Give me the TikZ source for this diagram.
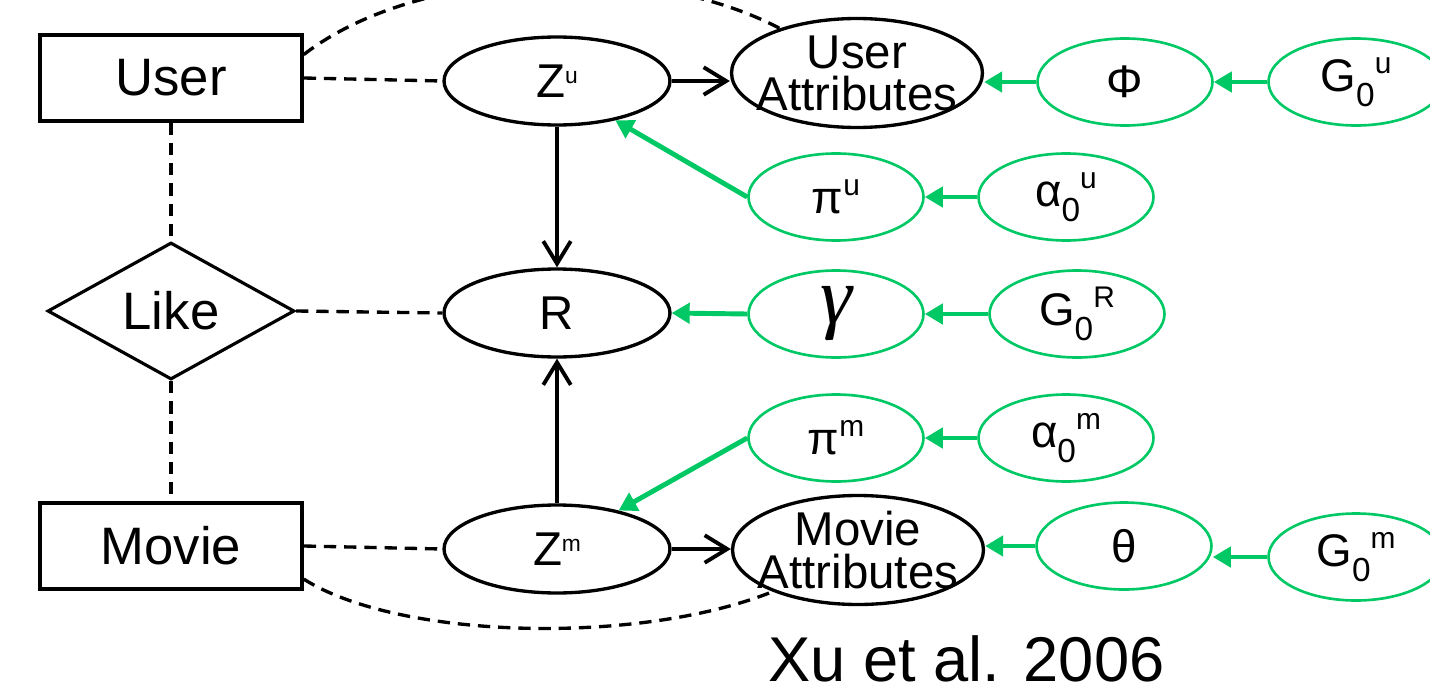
\documentclass[tikz,border=0pt]{standalone}
\usepackage{fontspec}
\setmainfont{Liberation Sans}
\newfontfamily\gammafont{Liberation Serif}
\usetikzlibrary{arrows.meta,shapes.geometric}

\definecolor{dpgreen}{RGB}{0,200,100}
\newcommand\bigtxt{\fontsize{30}{30}\selectfont}
\newcommand\midtxt{\fontsize{27}{24}\selectfont}
\newcommand\grtxt{\fontsize{26}{26}\selectfont}
\newcommand\supx[1]{\raisebox{0.4em}{\fontsize{17}{17}\selectfont #1}}
\newcommand\subx[1]{\raisebox{-0.33em}{\fontsize{19}{19}\selectfont #1}}
\newcommand\zsup[1]{\raisebox{0.3em}{\fontsize{13}{13}\selectfont #1}}

\begin{document}
\begin{tikzpicture}[x=0.02cm,y=-0.02cm,
    entity/.style={draw,line width=2pt,rectangle,minimum width=5.24cm,minimum height=1.72cm,inner sep=0pt,font=\bigtxt},
    relation/.style={draw,line width=1.8pt,diamond,minimum width=4.94cm,minimum height=2.74cm,inner sep=0pt,font=\bigtxt},
    latent/.style={draw,line width=1.9pt,ellipse,minimum width=4.52cm,minimum height=1.76cm,inner sep=0pt,font=\midtxt},
    attrib/.style={draw,line width=1.9pt,ellipse,minimum width=5.02cm,minimum height=2.18cm,inner xsep=-0.3cm,inner ysep=-0.15cm,align=center,font=\midtxt},
    prior/.style={draw=dpgreen,line width=1.5pt,ellipse,minimum width=3.5cm,minimum height=1.74cm,inner sep=0pt,font=\grtxt},
    link/.style={line width=1.9pt,dash pattern=on 7pt off 4.5pt},
    dep/.style={line width=2.2pt,-{Straight Barb[length=0.45cm,width=0.55cm]}},
    gen/.style={dpgreen,line width=2.8pt,-{Triangle[length=0.36cm,width=0.4cm]}}]
    \useasboundingbox (0,0) rectangle (1430,693);

    \node[entity] (user) at (171,78) {User};
    \node[relation] (like) at (171,311) {Like};
    \node[entity] (movie) at (171,546) {Movie};

    \node[latent] (zu) at (557,81) {Z\zsup{u}};
    \node[latent] (r) at (557,313) {R};
    \node[latent] (zm) at (557,549) {Z\zsup{m}};

    \node[attrib] (ua) at (857,73) {User\\Attributes};
    \node[attrib] (ma) at (858,550) {Movie\\Attributes};

    \node[prior] (phi) at (1125,82) {Φ};
    \node[prior] (g0u) at (1356,82) {G\subx{0}\supx{u}};
    \node[prior] (piu) at (836,197) {π\supx{u}};
    \node[prior] (a0u) at (1066,197) {α\subx{0}\supx{u}};
    \node[prior] (gam) at (836,314) {{\gammafont\fontsize{46}{46}\selectfont\itshape γ}};
    \node[prior] (g0r) at (1077,314) {G\subx{0}\supx{R}};
    \node[prior] (pim) at (836,438) {π\supx{m}};
    \node[prior] (a0m) at (1066,438) {α\subx{0}\supx{m}};
    \node[prior] (theta) at (1124,546) {θ};
    \node[prior] (g0m) at (1356,557) {G\subx{0}\supx{m}};

    \node[anchor=base west,inner sep=0pt,font=\fontsize{36}{36}\selectfont] (cite) at (768,681) {Xu et al. 2006};

    \draw[link] (user.east) -- (zu.west);
    \draw[link] (user.10) .. controls (420,-35) and (650,-40) .. (ua.150);
    \draw[link] (user.south) -- (like.north);
    \draw[link] (like.east) -- (r.west);
    \draw[link] (like.south) -- (movie.north);
    \draw[link] (movie.east) -- (zm.west);
    \draw[link] (movie.-14) .. controls (400,640) and (640,645) .. (ma.206);

    \draw[dep] (zu.east) -- (zu.east -| ua.west);
    \draw[dep] (zu.south) -- (r.north);
    \draw[dep] (zm.north) -- (r.south);
    \draw[dep] (zm.east) -- (zm.east -| ma.west);

    \draw[gen] (phi.west) -- (phi.west -| ua.east);
    \draw[gen] (g0u.west) -- (phi.east);
    \draw[gen] (a0u.west) -- (piu.east);
    \draw[gen] (piu.west) -- (zu.-34);
    \draw[gen] (gam.west) -- (r.east);
    \draw[gen] (g0r.west) -- (gam.east);
    \draw[gen] (a0m.west) -- (pim.east);
    \draw[gen] (pim.west) -- (zm.32);
    \draw[gen] (theta.west) -- (theta.west -| ma.east);
    \draw[gen] (g0m.west) -- (g0m.west -| theta.east);
\end{tikzpicture}
\end{document}
